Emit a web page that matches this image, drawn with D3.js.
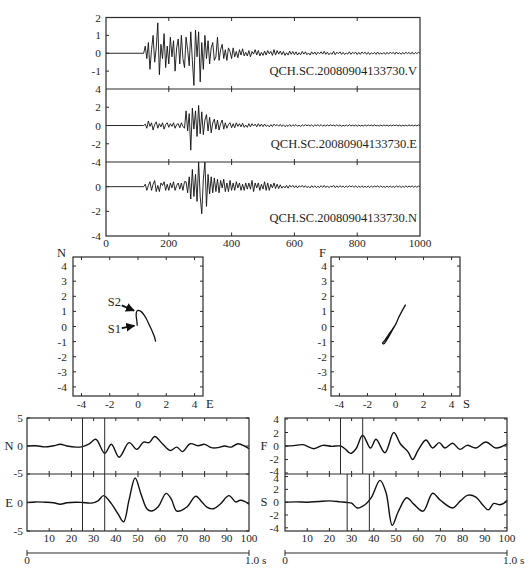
<!DOCTYPE html>
<html><head><meta charset="utf-8">
<script src="https://cdn.jsdelivr.net/npm/d3@7"></script>
<style>
body{margin:0;background:#fff}
svg text{font-family:"Liberation Serif","Times New Roman",serif;fill:#1e1e1e;font-size:11.3px}
svg text.lab{font-size:12.5px}
</style>
</head><body><svg id="c" width="531" height="576"></svg>
<script>
// ---------------- DATA ----------------
// seismograms: samples every 5 s starting at t=120 (flat zero before)
const seisStart = 120, seisStep = 5;
const traceV = [
0,0.4,-0.3,0.6,-0.9,0.2,1.0,-0.5,0.3,1.7,-1.2,0.5,-0.3,1.1,-0.8,0.4,-0.6,
0.9,-0.2,0.7,-1.0,0.3,0.8,-0.6,1.0,-0.3,-0.8,0.9,0.2,-0.7,1.2,-0.4,-1.8,1.3,-0.2,1.2,-1.6,
0.6,-0.9,1.0,-0.3,0.7,-0.6,0.3,0.6,-0.4,-0.2,0.9,-0.4,0.2,0.5,-0.3,0.2,-0.4,0.3,0.1,-0.3,
0.3,-0.2,0.1,-0.25,0.2,-0.1,0.25,-0.15,0.05,-0.15,0.15,-0.2,0.1,-0.05,0.2,-0.1,0.15,-0.15,0.05,-0.12,
0.12,-0.1,0.15,-0.03,0.1,-0.12,0.2,-0.1,0.15,-0.05,0.12,-0.08,0.1,-0.12,0.03,-0.1,0.12,-0.06,0.1,-0.08,
0.08,-0.1,0.03,-0.08,0.1,-0.05,0.08,-0.08,0.02,-0.1,0.08,-0.05,0.07,-0.08,0.06,-0.03,0.08,-0.05,0.1,-0.06,
0.06,-0.08,0.02,-0.06,0.1,-0.08,0.06,-0.03,0.08,-0.06,0.05,-0.07,0.02,-0.05,0.08,-0.06,0.05,-0.02,0.06,-0.07,
0.05,-0.06,0.07,-0.02,0.06,-0.06,0.05,-0.07,0.03,-0.04,0.05,-0.06,0.07,-0.05,0.02,-0.05,0.04,-0.06,0.05,-0.05,
0.06,-0.02,0.05,-0.06,0.07,-0.04,0.03,-0.06,0.05,-0.05,0.06,-0.02,0.05,-0.05,0.06,-0.05,0.04,-0.02,0.05,0];
const traceE = [
0,0.15,-0.3,0.5,-0.1,0.3,-0.5,0.1,0.4,-0.3,0.2,-0.15,0.3,-0.4,0.1,0.3,-0.2,
0.2,-0.1,0.3,-0.3,0.1,0.2,-0.25,0.3,-0.1,-0.3,1.6,-0.6,1.3,-2.7,1.9,-0.4,1.6,-1.2,2.2,-0.9,
1.5,-1.0,0.6,1.2,-0.6,0.9,-0.8,0.3,0.7,-0.4,0.6,-0.5,0.2,0.6,-0.4,0.3,-0.3,0.1,0.3,-0.25,
0.2,-0.25,0.3,-0.1,0.2,-0.15,0.25,-0.2,0.05,-0.2,0.2,-0.15,0.2,-0.05,0.15,-0.15,0.2,-0.1,0.15,-0.12,
0.15,-0.1,0.05,-0.15,0.1,-0.12,0.15,-0.03,0.1,-0.08,0.12,-0.1,0.08,-0.12,0.03,-0.08,0.1,-0.1,0.08,-0.06,
0.1,-0.08,0.03,-0.1,0.08,-0.06,0.1,-0.03,0.06,-0.06,0.08,-0.1,0.06,-0.02,0.08,-0.06,0.1,-0.08,0.05,-0.06,
0.06,-0.05,0.08,-0.02,0.05,-0.06,0.07,-0.05,0.06,-0.08,0.02,-0.05,0.06,-0.06,0.08,-0.05,0.03,-0.05,0.05,-0.07,
0.05,-0.06,0.02,-0.05,0.07,-0.05,0.06,-0.03,0.05,-0.05,0.06,-0.04,0.02,-0.06,0.05,-0.05,0.06,-0.03,0.04,-0.05,
0.05,-0.05,0.06,-0.02,0.05,-0.05,0.04,-0.06,0.03,-0.04,0.05,-0.05,0.06,-0.02,0.05,-0.05,0.04,-0.04,0.05,0];
const traceN = [
0,0.2,-0.3,0.1,0.4,-0.3,0.2,0.5,-0.4,0.1,-0.4,0.3,0.1,0.4,-0.3,0.2,-0.3,
0.3,-0.1,0.4,-0.3,0.1,0.3,-0.2,0.3,-0.3,0.4,0.4,-0.5,0.8,-1.0,1.4,-0.8,1.0,-1.2,2.0,-0.8,
-2.2,0.6,2.0,-1.6,1.0,-0.6,0.8,-0.5,0.7,-0.4,0.6,-0.5,0.5,-0.1,0.6,-0.4,0.3,-0.4,0.5,-0.3,
0.3,-0.3,0.4,-0.1,0.3,-0.3,0.2,-0.3,0.3,-0.2,0.3,-0.2,0.5,-0.4,0.3,-0.1,0.3,-0.3,0.2,-0.2,
0.4,-0.3,0.3,-0.3,0.2,-0.1,0.3,-0.15,0.2,-0.15,0.15,-0.12,0.05,-0.1,0.1,-0.12,0.12,-0.04,0.1,-0.08,
0.08,-0.1,0.07,-0.03,0.1,-0.06,0.08,-0.08,0.03,-0.1,0.08,-0.06,0.07,-0.08,0.03,-0.07,0.08,-0.06,0.1,-0.07,
0.06,-0.08,0.05,-0.03,0.1,-0.08,0.06,-0.06,0.08,-0.03,0.05,-0.07,0.06,-0.05,0.08,-0.02,0.06,-0.05,0.07,-0.07,
0.05,-0.06,0.07,-0.05,0.03,-0.06,0.05,-0.07,0.06,-0.05,0.05,-0.02,0.07,-0.05,0.06,-0.05,0.02,-0.06,0.05,-0.05,
0.06,-0.05,0.02,-0.06,0.07,-0.04,0.05,-0.06,0.03,-0.05,0.06,-0.04,0.05,-0.02,0.06,-0.05,0.04,-0.05,0.05,0];
const seisLabels = ["QCH.SC.20080904133730.V","QCH.SC.20080904133730.E","QCH.SC.20080904133730.N"];
const seisDomains = [[-2,2],[-4,4],[-4,2]];
const seisYTicks = [[2,1,0,-1],[4,2,0,-2,-4],[0,-2,-4]];
const seisXTicks = [0,200,400,600,800,1000];

// particle-motion hodograms
const hodoENe = [-0.05,-0.08,-0.13,-0.1,0.0,0.2,0.4,0.6,0.8,1.0,1.15,1.25];
const hodoENn = [0.05,0.35,0.75,0.98,1.06,1.0,0.8,0.5,0.1,-0.3,-0.65,-1.0];
const hodoSFs = [0.72,0.45,0.2,0.05,-0.2,-0.5,-0.75,-0.92,-0.85,-0.6,-0.35,-0.1,0.05];
const hodoSFf = [1.45,1.0,0.55,0.22,-0.15,-0.55,-0.9,-1.1,-1.15,-0.85,-0.45,-0.05,0.22];
const hodoTicks = [-4,-2,0,2,4];
const hodoYTicks = [4,3,2,1,0,-1,-2,-3,-4];
const arrowLabels = [{t:"S2", from:[-1.15,1.4], to:[-0.28,1.05], lx:-1.2, ly:1.35},
                     {t:"S1", from:[-1.15,-0.1], to:[-0.26,0.05], lx:-1.2, ly:-0.45}];

// zoomed waveforms (0-100 samples)
const wN_t = [0,4,8,12,15,18,22,25,28,31,35,38,41.5,46,49.5,52.5,55,57.5,61,64.5,67.5,70,73.5,77,80,83,86,89,92,95,98,100];
const wN_v = [0,0.05,-0.15,0.05,0.3,0,-0.2,-0.1,0.4,1.2,-1.3,0.3,-2.0,0.6,-0.6,0.7,0.6,1.7,0.4,-0.8,-0.2,-1.0,0.4,0.05,0.3,-0.3,-0.3,0.0,-0.2,0.4,0,-0.5];
const wE_t = [0,4,8,12,15,18,22,25,29,32,34.5,38,41,43.5,46,48.7,51.5,54,56,59,62.7,65,67.5,72,76,79,81,84,87,91,94,96,98,100];
const wE_v = [0,0.1,0.05,-0.05,-0.3,-0.05,0.05,0,-0.1,0.3,1.2,-0.2,-2.0,-3.4,0.5,4.3,1.3,-1.1,-1.5,-0.8,1.6,0.6,-1.5,-0.8,1.1,0,-0.8,-1.1,-0.3,1.2,0.1,0.4,0.2,-0.3];
const wF_t = [0,4,8,13,17,21,25,27,29.5,32,35,38.5,41,45,49,52,55.5,57.5,60,63.5,66.5,69.5,72,75.5,78.8,82,86,90.5,95,100];
const wF_v = [0,0.05,0.2,-0.4,0.1,-0.05,0,-0.4,-1.1,-0.4,1.6,-0.3,1.0,-1.0,2.0,0.3,-0.9,-2.0,-0.6,0.9,-0.3,0.5,-0.3,0.4,-0.5,0.1,-0.3,0.6,-0.3,0.3];
const wS_t = [0,5,10,15,20,25,28,30,32.6,36,39,42.8,45.5,48.3,51,54.8,58,62.2,66.5,70,75.5,79,82.4,86,89,91.6,94,96.8,98.5,100];
const wS_v = [0,0.05,0,0.1,0.2,0.05,-0.05,-0.15,-0.9,-0.4,0.8,3.4,1.5,-3.6,-1.5,0.7,-0.3,-1.4,1.4,0.3,-0.9,0.2,1.1,0.8,-0.4,-1.2,-0.2,-0.4,-0.2,0.3];
const wXTicks = [10,20,30,40,50,60,70,80,90,100];
const leftMarks = [25,35];
const rightTopMarks = [25,35];
const rightBotMarks = [28,38];
const timeBarLabels = ["0","1.0 s"];

// ---------------- DRAW ----------------
const svg = d3.select("#c");
const FR = "#2a2a2a";
const line = (xs, ys, xa, ya, curve) => d3.line().x((d,i)=>xs(xa[i])).y((d,i)=>ys(ya[i])).curve(curve||d3.curveLinear)(xa);

function frame(x0,y0,x1,y1){
  svg.append("rect").attr("x",x0).attr("y",y0).attr("width",x1-x0).attr("height",y1-y0)
    .attr("fill","none").attr("stroke",FR).attr("stroke-width",1.2);
}
function tick(x1,y1,x2,y2){
  svg.append("line").attr("x1",x1).attr("y1",y1).attr("x2",x2).attr("y2",y2).attr("stroke",FR).attr("stroke-width",1);
}
function text(x,y,s,anchor){
  return svg.append("text").attr("x",x).attr("y",y).attr("text-anchor",anchor||"start").text(s);
}

// ---- top seismogram panel ----
const sx = d3.scaleLinear().domain([0,1000]).range([106,420]);
const rows = [[17.5,89],[89,162],[162,236]];
const traces = [traceV,traceE,traceN];
const labelY = [75,148,222];
traces.forEach((tr,k)=>{
  const [top,bot] = rows[k];
  const sy = d3.scaleLinear().domain(seisDomains[k]).range([bot,top]);
  const ts = [0].concat(tr.map((v,i)=>seisStart+i*seisStep));
  const vs = [0].concat(tr);
  svg.append("path").attr("d",line(sx,sy,ts,vs)).attr("fill","none").attr("stroke","#111").attr("stroke-width",0.9).attr("stroke-linejoin","round");
  seisYTicks[k].forEach(v=>{
    text(101, sy(v)+4, v, "end");
    if (sy(v)>top+1 && sy(v)<bot-1) tick(106,sy(v),109,sy(v));
  });
  text(417, labelY[k], seisLabels[k], "end").attr("class","lab");
});
frame(106,17.5,420,236);
tick(106,89,420,89); tick(106,162,420,162);
seisXTicks.slice(1,-1).forEach(v=>{
  const x=sx(v);
  tick(x,17.5,x,21); tick(x,86,x,92); tick(x,159,x,165); tick(x,232.5,x,236);
});
seisXTicks.forEach(v=> text(sx(v),247,v,"middle"));

// ---- hodograms ----
function hodo(x0,x1,xs,ys,xLab,yLab,lblEnd){
  const hx = d3.scaleLinear().domain([-4.6,4.6]).range([x0,x1]);
  const hy = d3.scaleLinear().domain([-4.6,4.6]).range([396,257]);
  frame(x0,257,x1,396);
  hodoTicks.forEach(v=>{ tick(hx(v),396,hx(v),393); tick(hx(v),257,hx(v),260); text(hx(v),408,v,"middle"); });
  hodoYTicks.forEach(v=>{ tick(x0,hy(v),x0+3,hy(v)); tick(x1,hy(v),x1-3,hy(v)); text(lblEnd,hy(v)+4,v,"end"); });
  text(x1+3,408,xLab,"start").attr("class","lab");
  text(lblEnd-1,257,yLab,"end").attr("class","lab");
  svg.append("path").attr("d",line(hx,hy,xs,ys,d3.curveCatmullRom)).attr("fill","none").attr("stroke","#111").attr("stroke-width",1.3);
  return [hx,hy];
}
const [hx1,hy1] = hodo(73,203,hodoENe,hodoENn,"E","N",67);
hodo(331,460,hodoSFs,hodoSFf,"S","F",327);
svg.append("defs").append("marker").attr("id","ah").attr("viewBox","0 0 10 10").attr("refX",9).attr("refY",5)
  .attr("markerWidth",5).attr("markerHeight",5).attr("orient","auto")
  .append("path").attr("d","M0,0L10,5L0,10z").attr("fill","#111");
arrowLabels.forEach(a=>{
  svg.append("line").attr("x1",hx1(a.from[0])).attr("y1",hy1(a.from[1])).attr("x2",hx1(a.to[0])).attr("y2",hy1(a.to[1]))
    .attr("stroke","#111").attr("stroke-width",1.8).attr("marker-end","url(#ah)");
  text(hx1(a.lx),hy1(a.ly),a.t,"end").attr("class","lab");
});

// ---- zoomed waveform panels ----
function wpanel(x0,x1,specs,markSets,sharedMarks,labX,nameX){
  const wx = d3.scaleLinear().domain([0,100]).range([x0,x1]);
  specs.forEach((s,k)=>{
    const wy = d3.scaleLinear().domain(s.dom).range([s.bot,s.top]);
    svg.append("path").attr("d",line(wx,wy,s.t,s.v,d3.curveCatmullRom)).attr("fill","none").attr("stroke","#111").attr("stroke-width",1.4);
    s.ticks.forEach(v=>{
      tick(x0,wy(v),x0+3,wy(v)); tick(x1,wy(v),x1-3,wy(v));
    });
    s.labels.forEach((v,j)=>{
      // nudge labels that sit right at the shared boundary apart, as in the original
      let dy = 0;
      if (k===0 && j===s.labels.length-1 && wy(v) > s.bot-6) dy = -1.5;
      if (k===1 && j===0 && wy(v) < s.top+6) dy = 1.5;
      text(labX, wy(v)+4+dy, v, "end");
    });
    text(nameX, wy(0)+4.2, s.name, "middle").attr("class","lab");
    if(markSets) (markSets[k]||[]).forEach(m=> tick(wx(m),s.top,wx(m),s.bot));
  });
  const top = specs[0].top, mid = specs[0].bot, bot = specs[1].bot;
  frame(x0,top,x1,bot);
  tick(x0,mid,x1,mid);
  if(sharedMarks) sharedMarks.forEach(m=> tick(wx(m),top,wx(m),bot));
  wXTicks.slice(0,-1).forEach(v=>{
    const x=wx(v); tick(x,top,x,top+3); tick(x,mid-3,x,mid+3); tick(x,bot,x,bot-3);
  });
  wXTicks.forEach(v=> text(wx(v),542,v,"middle"));
  // time bar
  tick(x0,553,x1,553); tick(x0,550,x0,556); tick(x1,550,x1,556);
  text(x0,564,timeBarLabels[0],"middle");
  text(x1-4,564,timeBarLabels[1],"start");
}
wpanel(27,249,[
  {name:"N",t:wN_t,v:wN_v,dom:[-5,5],top:418,bot:474,ticks:[5,0,-5],labels:[5,0,-5]},
  {name:"E",t:wE_t,v:wE_v,dom:[-5,5],top:474,bot:531,ticks:[0,-5],labels:[0,-5]}
], null, leftMarks, 23, 9);
wpanel(285,507,[
  {name:"F",t:wF_t,v:wF_v,dom:[-4.15,4.15],top:418,bot:474,ticks:[4,2,0,-2,-4],labels:[4,2,0,-2,-4]},
  {name:"S",t:wS_t,v:wS_v,dom:[-4.5,4.4],top:474,bot:531,ticks:[4,2,0,-2,-4],labels:[4,2,0,-2,-4]}
], [rightTopMarks,rightBotMarks], null, 279, 264);
</script>
</body></html>
